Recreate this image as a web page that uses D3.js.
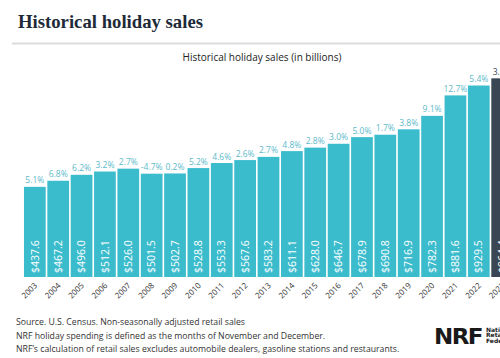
<!DOCTYPE html>
<html>
<head>
<meta charset="utf-8">
<script src="https://cdn.jsdelivr.net/npm/d3@7"></script>
<style>
html,body{margin:0;padding:0;background:#fff;}
svg{display:block;}
</style>
</head>
<body>
<script>
const years = ["2003","2004","2005","2006","2007","2008","2009","2010","2011","2012","2013","2014","2015","2016","2017","2018","2019","2020","2021","2022","2023"];
const sales = [437.6,467.2,496.0,512.1,526.0,501.5,502.7,528.8,553.3,567.6,583.2,611.1,628.0,646.7,678.9,690.8,716.9,782.3,881.6,929.5,964.4];
const growth = ["5.1%","6.8%","6.2%","3.2%","2.7%","-4.7%","0.2%","5.2%","4.6%","2.6%","2.7%","4.8%","2.8%","3.0%","5.0%","1.7%","3.8%","9.1%","12.7%","5.4%","3.8%"];
const footnotes = [
  "Source. U.S. Census. Non-seasonally adjusted retail sales",
  "NRF holiday spending is defined as the months of November and December.",
  "NRF\u2019s calculation of retail sales excludes automobile dealers, gasoline stations and restaurants."
];

const W = 500, H = 358;
const svg = d3.select("body").append("svg").attr("width", W).attr("height", H);

const font = "'Open Sans', sans-serif";

// Title
svg.append("text").attr("x", 18).attr("y", 27.5)
  .attr("font-family", "'Liberation Serif', serif").attr("font-weight", "bold")
  .attr("font-size", 19.5).attr("fill", "#1e2a38")
  .attr("textLength", 185).attr("lengthAdjust", "spacingAndGlyphs")
  .text("Historical holiday sales");

svg.append("line").attr("x1", 12).attr("x2", W).attr("y1", 43.5).attr("y2", 43.5)
  .attr("stroke", "#dcdcdc").attr("stroke-width", 2);

svg.append("text").attr("x", 262).attr("y", 61).attr("text-anchor", "middle")
  .attr("font-family", font).attr("font-size", 10).attr("fill", "#222")
  .text("Historical holiday sales (in billions)");

const x = d3.scaleBand().domain(years).range([23.5, 513.5]).paddingInner(0.07).paddingOuter(0.02);
const y = d3.scaleLinear().domain([0, 1000]).range([277, 71]);

const teal = "#3bbccd", dark = "#3b4655";
const data = years.map((yr, i) => ({yr, v: sales[i], g: growth[i], last: i === years.length - 1}));

const g = svg.append("g");
g.selectAll("rect.bar").data(data).join("rect")
  .attr("x", d => x(d.yr)).attr("width", x.bandwidth())
  .attr("y", d => y(d.v)).attr("height", d => y(0) - y(d.v))
  .attr("fill", d => d.last ? dark : teal);

g.selectAll("text.pct").data(data).join("text")
  .attr("x", d => x(d.yr) + x.bandwidth() / 2).attr("y", d => y(d.v) - 3.5)
  .attr("text-anchor", "middle").attr("font-family", font).attr("font-size", 8.5)
  .attr("fill", d => d.last ? dark : "#5cb9c9")
  .text(d => d.g);

g.selectAll("text.val").data(data).join("text")
  .attr("transform", d => `translate(${x(d.yr) + x.bandwidth() / 2},${y(0) - 4}) rotate(-90)`)
  .attr("dy", "0.35em").attr("font-family", font).attr("font-size", 10.5)
  .attr("fill", "#fff")
  .text(d => "$" + d.v.toFixed(1));

// x axis labels
const xAxis = d3.axisBottom(x).tickSize(0).tickPadding(0);
const ax = svg.append("g").attr("transform", `translate(0,${y(0)})`).call(xAxis);
ax.select(".domain").remove();
ax.selectAll("text")
  .attr("font-family", font).attr("font-size", 8).attr("fill", "#333")
  .attr("text-anchor", "end").attr("dy", null).attr("y", 0)
  .attr("transform", "translate(3,9) rotate(-45)");

// footnotes
svg.append("g").selectAll("text").data(footnotes).join("text")
  .attr("x", 16).attr("y", (d, i) => 325 + i * 13.5)
  .attr("font-family", font).attr("font-size", 8.7).attr("fill", "#333")
  .text(d => d);

// NRF logo
svg.append("text").attr("x", 434).attr("y", 343.5)
  .attr("font-family", "'DejaVu Sans', sans-serif").attr("font-weight", "bold")
  .attr("font-size", 22).attr("letter-spacing", -1.5).attr("fill", "#1a1a1a")
  .attr("textLength", 48).attr("lengthAdjust", "spacingAndGlyphs")
  .text("NRF");
svg.append("g").selectAll("text").data(["National", "Retail", "Federation"]).join("text")
  .attr("x", 486).attr("y", (d, i) => 331.5 + i * 5.8)
  .attr("font-family", "'DejaVu Sans', sans-serif").attr("font-weight", "bold")
  .attr("font-size", 6).attr("fill", "#1a1a1a")
  .text(d => d);
</script>
</body>
</html>
